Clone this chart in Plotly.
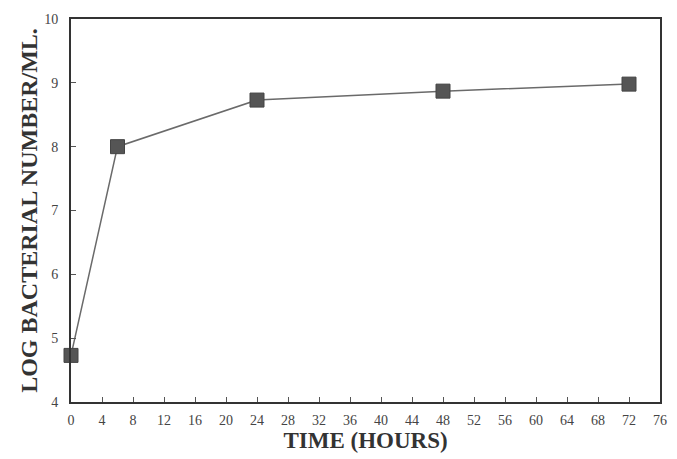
import plotly.graph_objects as go

# Growth curve: sampling time (hours) and log bacterial count per ml
time_hours = [0, 6, 24, 48, 72]
log_count = [4.73, 8.0, 8.73, 8.87, 8.98]

x_ticks = list(range(0, 77, 4))
y_ticks = [4, 5, 6, 7, 8, 9, 10]

fig = go.Figure()
fig.add_trace(go.Scatter(
    x=time_hours,
    y=log_count,
    mode="lines+markers",
    line=dict(color="#6a6a6a", width=1.5),
    marker=dict(symbol="square", size=14, color="#555555",
                line=dict(color="#444444", width=1)),
    showlegend=False,
    cliponaxis=False,
))

axis_font = dict(family="Liberation Serif, Times New Roman, serif", size=14, color="#444444")
x_title_font = dict(family="Liberation Serif, Times New Roman, serif", size=23, color="#333333")
y_title_font = dict(family="Liberation Serif, Times New Roman, serif", size=24, color="#333333")

fig.update_layout(
    width=677,
    height=459,
    margin=dict(l=71, r=10, t=19, b=56),
    paper_bgcolor="white",
    plot_bgcolor="white",
    xaxis=dict(
        range=[0, 76],
        tickvals=x_ticks,
        ticktext=[str(v) for v in x_ticks],
        ticks="inside",
        ticklen=5,
        tickwidth=1,
        tickcolor="#555555",
        showline=True,
        linecolor="#333333",
        linewidth=2,
        mirror=True,
        showgrid=False,
        zeroline=False,
        tickfont=axis_font,
        ticklabelstandoff=4,
        title=dict(text="<b>TIME (HOURS)</b>", font=x_title_font, standoff=5),
    ),
    yaxis=dict(
        range=[4, 10],
        tickvals=y_ticks,
        ticktext=[str(v) for v in y_ticks],
        ticks="inside",
        ticklen=5,
        tickwidth=1,
        tickcolor="#555555",
        showline=True,
        linecolor="#333333",
        linewidth=2,
        mirror=True,
        showgrid=False,
        zeroline=False,
        tickfont=axis_font,
        ticklabelstandoff=8,
        title=dict(text="<b>LOG BACTERIAL NUMBER/ML.</b>", font=y_title_font, standoff=0),
    ),
)

fig.write_html("out.html")
